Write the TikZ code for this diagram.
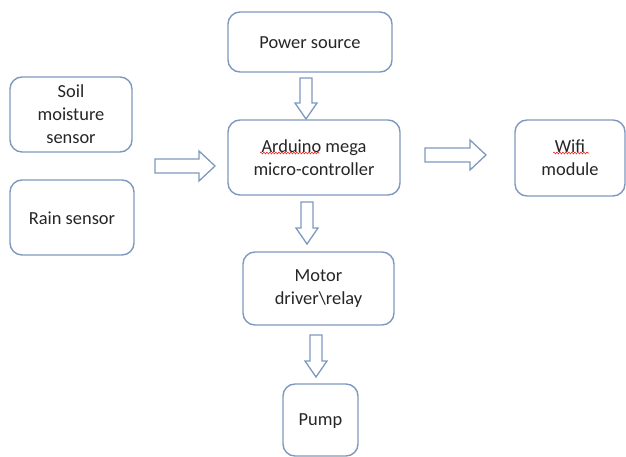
\documentclass[tikz,border=0pt]{standalone}
\usepackage{fontspec}
\setmainfont{Carlito}
\usetikzlibrary{decorations.pathmorphing}
\definecolor{boxline}{RGB}{126,153,189}
\definecolor{txt}{RGB}{38,38,38}
\definecolor{spell}{RGB}{230,40,40}
\tikzset{
  blk/.style={draw=boxline, line width=1.4pt, rounded corners=12pt, fill=white},
  lbl/.style={text=txt, font=\fontsize{18.4}{23}\selectfont, align=center, inner sep=0pt},
  harrow/.style={draw=boxline, line width=1.3pt, fill=white, line join=miter},
  wavy/.style={draw=spell, line width=0.6pt, decorate, decoration={snake, amplitude=0.9pt, segment length=3pt}}
}
\newcommand\downblk[3]{% x, ytop, ytip
  \draw[harrow] (#1-6,#2) -- (#1+6,#2) -- (#1+6,#3-16) -- (#1+11,#3-16) -- (#1,#3) -- (#1-11,#3-16) -- (#1-6,#3-16) -- cycle;}
\newcommand\rightblk[4]{% xstart, xbase, xtip, y
  \draw[harrow] (#1,#4-7) -- (#2,#4-7) -- (#2,#4-15) -- (#3,#4) -- (#2,#4+15) -- (#2,#4+7) -- (#1,#4+7) -- cycle;}
\begin{document}
\begin{tikzpicture}[x=1pt,y=-1pt]
\useasboundingbox (0,0) rectangle (626,457);
% boxes
\draw[blk] (228,12) rectangle (392,72);
\node[lbl] (power) at (310,43) {Power source};
\draw[blk] (10,77) rectangle (132,152);
\node[lbl] (soil) at (71,114) {Soil\\moisture\\sensor};
\draw[blk] (10,180) rectangle (134,255);
\node[lbl] (rain) at (72,218) {Rain sensor};
\draw[blk] (228,120) rectangle (400,195);
\node[lbl] (ard) at (314,158) {Arduino mega\\micro-controller};
\draw[blk] (515,120) rectangle (625,196);
\node[lbl] (wifi) at (570,158) {Wifi\\module};
\draw[blk] (243,252) rectangle (394,325);
\node[lbl] (motor) at (318.5,289) {Motor\\driver\textbackslash relay};
\draw[blk] (283,384) rectangle (358,456);
\node[lbl] (pump) at (320.5,421) {Pump};
% spell-check underlines
\draw[wavy] (260,153) -- (319,153);
\draw[wavy] (553,153) -- (589,153);
% arrows
\downblk{306}{78}{119}
\rightblk{155}{199}{215}{166}
\rightblk{425}{470}{486}{155}
\downblk{307}{202}{244}
\downblk{316}{335}{377}
\end{tikzpicture}
\end{document}
